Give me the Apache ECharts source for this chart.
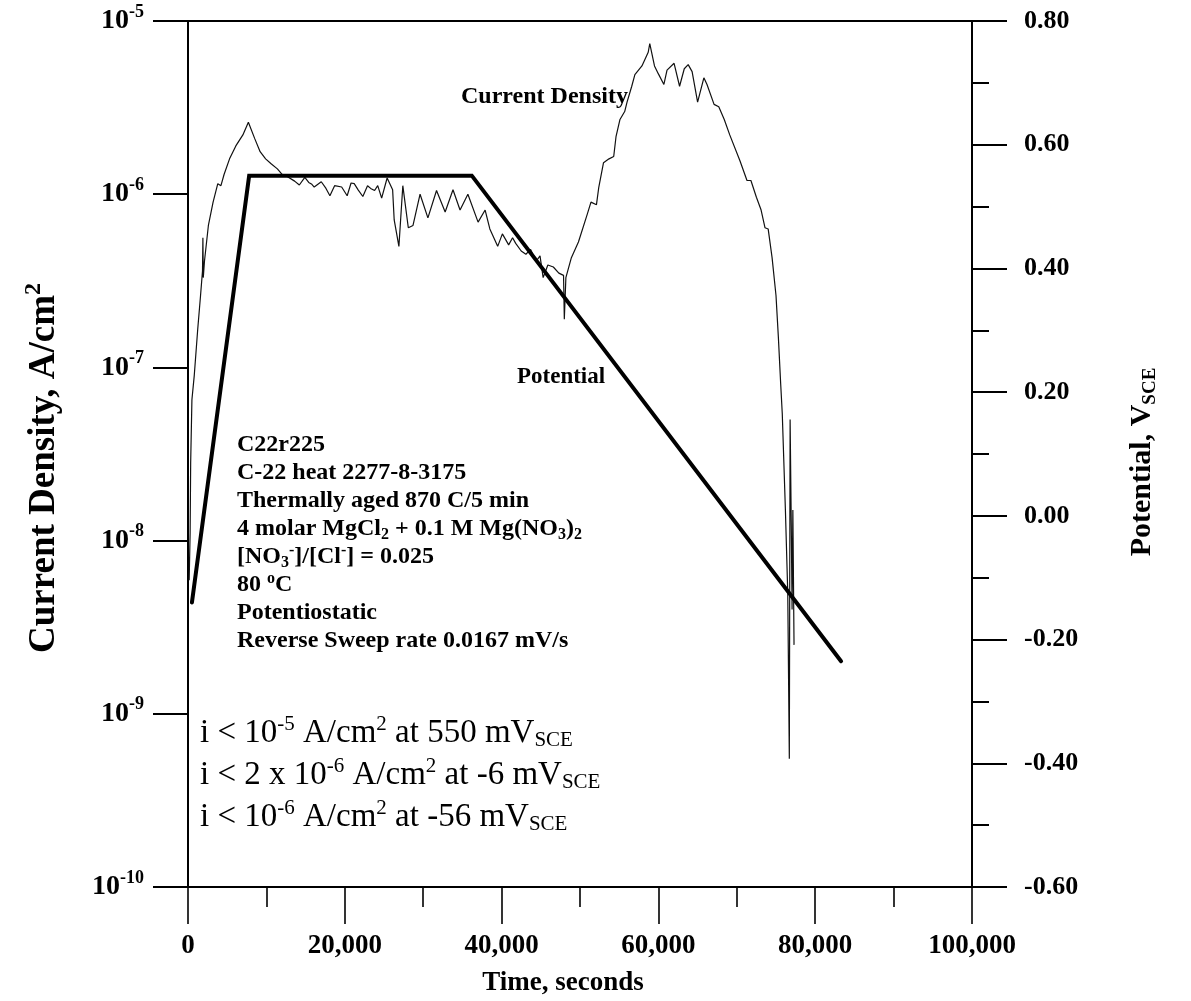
<!DOCTYPE html>
<html>
<head>
<meta charset="utf-8">
<title>C22r225 potentiostatic test</title>
<script src="https://cdn.jsdelivr.net/npm/echarts@6/dist/echarts.min.js"></script>
<style>
  html, body { margin: 0; padding: 0; background: #ffffff; }
  #chart { width: 1191px; height: 1001px; }
</style>
</head>
<body>
<div id="chart"></div>
<script>
// Measured current density (A/cm^2) against elapsed time (s)
const timeSeconds = [
  150, 270, 340, 500, 800, 1240, 1600, 1850, 1900, 1950, 2100, 2600, 3200, 3800, 4200,
  4600, 5300, 6100, 7000, 7700, 8500, 9200, 9900, 10600, 11400, 12000, 12700, 13600, 14200,
  14900, 15400, 15800, 16100, 17000, 17600, 18100, 18700, 19600, 20300, 20800, 21200, 21700,
  22300, 22900, 23300, 23800, 24200, 24700, 25400, 26100, 26300, 26900, 27400, 28100, 28700,
  29600, 30600, 31700, 32800, 33800, 34700, 35700, 37000, 37900, 38500, 39500, 40100, 40900,
  41400, 41800, 42500, 43100, 43700, 44400, 44900, 45300, 45900, 46600, 47300, 47900, 48000,
  48200, 48900, 49800, 50900, 51400, 52100, 52400, 53000, 53700, 54300, 54600, 55100, 55700,
  56000, 56600, 57000, 57900, 58700, 58900, 59500, 60000, 60700, 61100, 62000, 62700, 63300,
  63800, 64300, 65000, 65800, 66200, 67100, 67700, 68400, 69100, 70400, 71300, 71800, 72500,
  73100, 73600, 74000, 74500, 75000, 75300, 75600, 75800, 76200, 76500, 76700, 76800, 76950,
  77050, 77150, 77300
];
const currentDensity = [
  5.9e-9, 1.1e-8, 2.8e-8, 6.5e-8, 9.0e-8, 1.66e-7, 2.6e-7, 3.6e-7, 5.6e-7, 3.3e-7, 4.1e-7, 6.6e-7, 9.0e-7, 1.15e-6, 1.12e-6,
  1.3e-6, 1.6e-6, 1.9e-6, 2.2e-6, 2.6e-6, 2.1e-6, 1.76e-6, 1.6e-6, 1.5e-6, 1.4e-6, 1.3e-6, 1.26e-6, 1.19e-6, 1.13e-6,
  1.25e-6, 1.17e-6, 1.14e-6, 1.10e-6, 1.18e-6, 1.08e-6, 0.98e-6, 1.12e-6, 1.10e-6, 0.98e-6, 1.16e-6, 1.15e-6, 1.06e-6,
  0.97e-6, 1.12e-6, 1.08e-6, 1.05e-6, 1.12e-6, 0.95e-6, 1.24e-6, 1.06e-6, 7.1e-7, 5.0e-7, 1.12e-6, 6.4e-7, 6.6e-7,
  1.0e-6, 7.3e-7, 1.05e-6, 7.9e-7, 1.06e-6, 8.1e-7, 1.0e-6, 6.9e-7, 8.1e-7, 6.3e-7, 5.0e-7, 5.9e-7, 5.1e-7,
  5.6e-7, 5.2e-7, 4.7e-7, 4.5e-7, 4.8e-7, 4.1e-7, 4.4e-7, 3.3e-7, 3.9e-7, 3.8e-7, 3.5e-7, 3.4e-7, 1.9e-7,
  3.3e-7, 4.3e-7, 5.3e-7, 7.6e-7, 9.0e-7, 8.7e-7, 1.1e-6, 1.52e-6, 1.6e-6, 1.65e-6, 2.16e-6, 2.7e-6, 3.0e-6,
  3.4e-6, 4.2e-6, 4.9e-6, 5.5e-6, 6.6e-6, 7.4e-6, 5.5e-6, 4.95e-6, 4.3e-6, 5.2e-6, 5.7e-6, 4.2e-6, 5.3e-6,
  5.6e-6, 5.1e-6, 3.4e-6, 4.7e-6, 4.3e-6, 3.3e-6, 3.2e-6, 2.7e-6, 2.2e-6, 1.56e-6, 1.2e-6, 1.2e-6, 9.6e-7,
  8.1e-7, 6.4e-7, 6.3e-7, 4.3e-7, 2.6e-7, 1.5e-7, 8.0e-8, 5.4e-8, 1.5e-8, 5.0e-9, 5.5e-10, 5.0e-8, 1.2e-8,
  4.0e-9, 1.5e-8, 2.5e-9
];

// Applied potential programme (V vs SCE): ramp, hold at 550 mV, reverse sweep
const potentialTime = [500, 7800, 36200, 83300];
const potentialVolts = [-0.14, 0.55, 0.55, -0.235];

// Text blocks
const specimenLines = [
  '{b|C22r225}',
  '{b|C-22 heat 2277-8-3175}',
  '{b|Thermally aged 870 C/5 min}',
  '{b|4 molar MgCl}{sub|2}{b| + 0.1 M Mg(NO}{sub|3}{b|)}{sub|2}',
  '{b|[NO}{sub|3}{sup|-}{b|]/[Cl}{sup|-}{b|] = 0.025}',
  '{b|80 }{sup|o}{b|C}',
  '{b|Potentiostatic}',
  '{b|Reverse Sweep rate 0.0167 mV/s}'
];
const limitLines = [
  '{r|i < 10}{sup|-5}{r| A/cm}{sup|2}{r| at 550 mV}{sub|SCE}',
  '{r|i < 2 x 10}{sup|-6}{r| A/cm}{sup|2}{r| at -6 mV}{sub|SCE}',
  '{r|i < 10}{sup|-6}{r| A/cm}{sup|2}{r| at -56 mV}{sub|SCE}'
];
const xTitle = 'Time, seconds';
const leftTitle = '{t|Current Density, A/cm}{sup|2}';
const rightTitle = '{t|Potential, V}{sub|SCE}';
const currentLabel = 'Current Density';
const potentialLabel = 'Potential';

const SERIF = '"Liberation Serif", "Times New Roman", "DejaVu Serif", serif';
const INK = '#000000';

const chart = echarts.init(document.getElementById('chart'), null, { renderer: 'canvas' });

const currentData = timeSeconds.map((t, i) => [t, currentDensity[i]]);
const potentialData = potentialTime.map((t, i) => [t, potentialVolts[i]]);

const axisLine = { show: true, onZero: false, lineStyle: { color: INK, width: 2 } };

const option = {
  animation: false,
  backgroundColor: '#ffffff',
  grid: { left: 188, right: 219, top: 21, bottom: 114, containLabel: false },
  xAxis: [
    {
      type: 'value', min: 0, max: 100000, interval: 20000,
      axisLine: axisLine,
      axisTick: { show: true, inside: false, length: 37, lineStyle: { color: INK, width: 1.6 } },
      minorTick: { show: true, splitNumber: 2, length: 20, lineStyle: { color: INK, width: 1.6 } },
      splitLine: { show: false },
      axisLabel: {
        margin: 46, color: INK, fontFamily: SERIF, fontWeight: 'bold', fontSize: 27,
        formatter: v => v.toLocaleString('en-US')
      }
    },
    {
      type: 'value', min: 0, max: 100000, position: 'top',
      axisLine: axisLine, axisTick: { show: false }, axisLabel: { show: false }, splitLine: { show: false }
    }
  ],
  yAxis: [
    {
      type: 'log', logBase: 10, min: 1e-10, max: 1e-5, position: 'left',
      axisLine: axisLine,
      axisTick: { show: true, inside: false, length: 35, lineStyle: { color: INK, width: 2 } },
      minorTick: { show: false },
      splitLine: { show: false },
      axisLabel: {
        margin: 44, color: INK,
        formatter: v => '{b|10}{s|' + Math.round(Math.log10(v)) + '}',
        rich: {
          b: { fontFamily: SERIF, fontWeight: 'bold', fontSize: 28, color: INK },
          s: { fontFamily: SERIF, fontWeight: 'bold', fontSize: 18, color: INK, padding: [0, 0, 18, 0] }
        }
      }
    },
    {
      type: 'value', min: -0.6, max: 0.8, interval: 0.2, position: 'right',
      axisLine: axisLine,
      axisTick: { show: true, inside: false, length: 35, lineStyle: { color: INK, width: 2 } },
      minorTick: { show: true, splitNumber: 2, length: 17, lineStyle: { color: INK, width: 2 } },
      splitLine: { show: false },
      axisLabel: {
        margin: 52, color: INK, fontFamily: SERIF, fontWeight: 'bold', fontSize: 26,
        formatter: v => v.toFixed(2)
      }
    }
  ],
  series: [
    {
      name: 'Current Density', type: 'line', xAxisIndex: 0, yAxisIndex: 0,
      data: currentData, showSymbol: false, symbol: 'none',
      lineStyle: { color: '#111111', width: 1.2 }, z: 2
    },
    {
      name: 'Potential', type: 'line', xAxisIndex: 0, yAxisIndex: 1,
      data: potentialData, showSymbol: false, symbol: 'none',
      lineStyle: { color: INK, width: 4, cap: 'round', join: 'miter' }, z: 3
    }
  ],
  graphic: [
    {
      type: 'text', x: 461, y: 97,
      style: { text: currentLabel, fill: INK, font: 'bold 24px ' + SERIF,
               align: 'left', verticalAlign: 'middle', textAlign: 'left', textVerticalAlign: 'middle' }
    },
    {
      type: 'text', x: 517, y: 377,
      style: { text: potentialLabel, fill: INK, font: 'bold 23px ' + SERIF,
               align: 'left', verticalAlign: 'middle', textAlign: 'left', textVerticalAlign: 'middle' }
    },
    {
      type: 'text', x: 237, y: 431,
      style: {
        text: specimenLines.join('\n'), fill: INK, lineHeight: 28,
        align: 'left', verticalAlign: 'top', textAlign: 'left', textVerticalAlign: 'top',
        rich: {
          b: { fontFamily: SERIF, fontWeight: 'bold', fontSize: 24, lineHeight: 28, fill: INK, color: INK },
          sub: { fontFamily: SERIF, fontWeight: 'bold', fontSize: 16, lineHeight: 28, fill: INK, color: INK, padding: [12, 0, 0, 0] },
          sup: { fontFamily: SERIF, fontWeight: 'bold', fontSize: 16, lineHeight: 28, fill: INK, color: INK, padding: [0, 0, 12, 0] }
        }
      }
    },
    {
      type: 'text', x: 200, y: 712,
      style: {
        text: limitLines.join('\n'), fill: INK, lineHeight: 42,
        align: 'left', verticalAlign: 'top', textAlign: 'left', textVerticalAlign: 'top',
        rich: {
          r: { fontFamily: SERIF, fontSize: 33, lineHeight: 42, fill: INK, color: INK },
          sup: { fontFamily: SERIF, fontSize: 21, lineHeight: 42, fill: INK, color: INK, padding: [0, 0, 17, 0] },
          sub: { fontFamily: SERIF, fontSize: 21, lineHeight: 42, fill: INK, color: INK, padding: [15, 0, 0, 0] }
        }
      }
    },
    {
      type: 'text', x: 563, y: 983,
      style: { text: xTitle, fill: INK, font: 'bold 27px ' + SERIF,
               align: 'center', verticalAlign: 'middle', textAlign: 'center', textVerticalAlign: 'middle' }
    },
    {
      type: 'text', x: 44, y: 468, rotation: Math.PI / 2,
      style: {
        text: leftTitle, fill: INK,
        align: 'center', verticalAlign: 'middle', textAlign: 'center', textVerticalAlign: 'middle',
        rich: {
          t: { fontFamily: SERIF, fontWeight: 'bold', fontSize: 37, fill: INK, color: INK },
          sup: { fontFamily: SERIF, fontWeight: 'bold', fontSize: 24, fill: INK, color: INK, padding: [0, 0, 20, 0] }
        }
      }
    },
    {
      type: 'text', x: 1142, y: 462, rotation: Math.PI / 2,
      style: {
        text: rightTitle, fill: INK,
        align: 'center', verticalAlign: 'middle', textAlign: 'center', textVerticalAlign: 'middle',
        rich: {
          t: { fontFamily: SERIF, fontWeight: 'bold', fontSize: 30, fill: INK, color: INK },
          sub: { fontFamily: SERIF, fontWeight: 'bold', fontSize: 19, fill: INK, color: INK, padding: [16, 0, 0, 0] }
        }
      }
    }
  ]
};

chart.setOption(option);
</script>
</body>
</html>
